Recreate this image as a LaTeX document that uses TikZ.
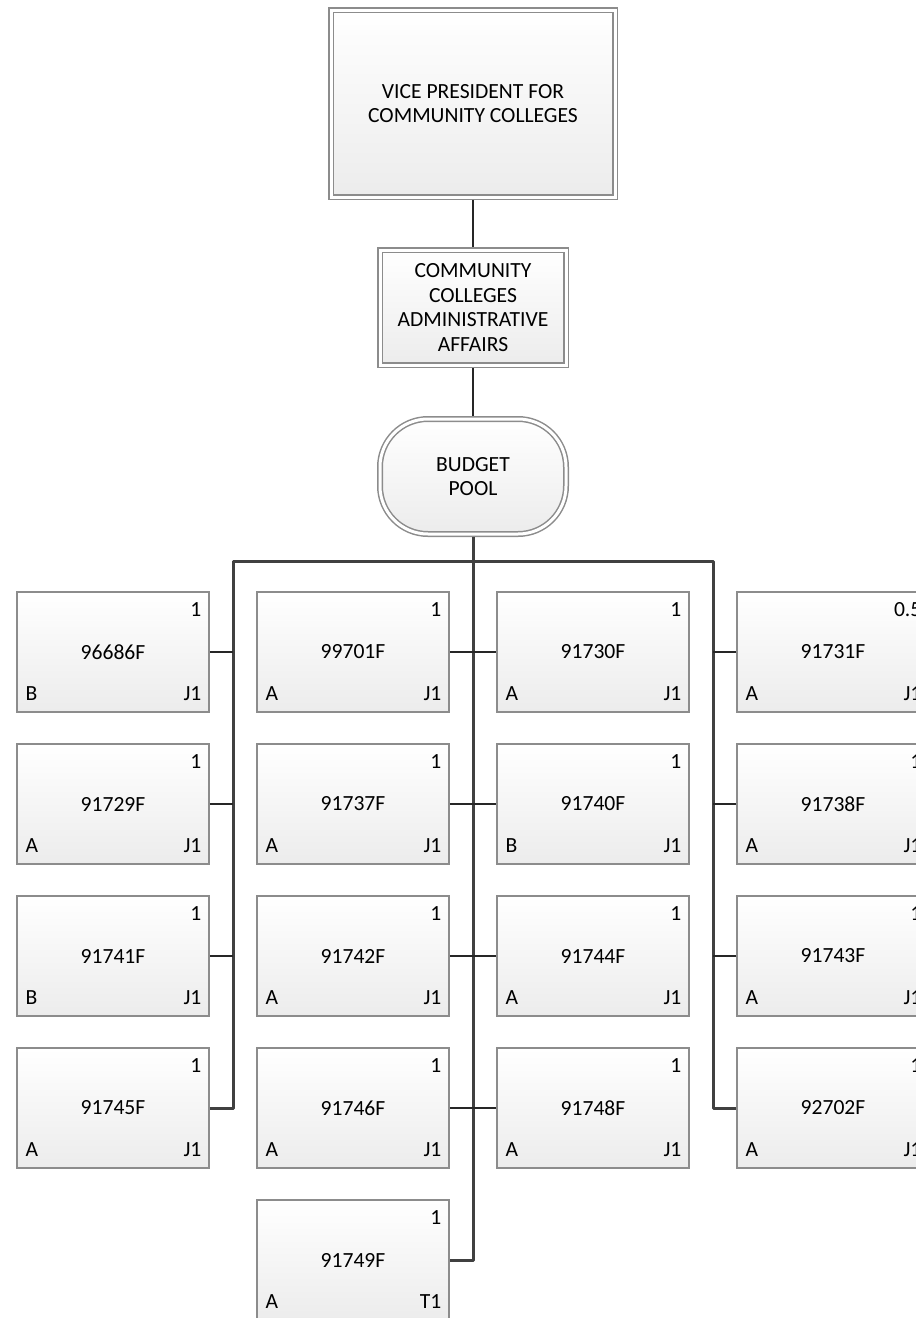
\documentclass[tikz,border=0pt]{standalone}
\usepackage{fontspec}
\setmainfont{Carlito}
\usetikzlibrary{positioning, calc}
\definecolor{boxgray}{RGB}{140,140,140}
\definecolor{busgray}{RGB}{64,64,64}
\definecolor{fillgray}{RGB}{236,236,236}

\tikzset{
    txt/.style={font=\fontsize{10.8}{12.2}\selectfont},
    posbox/.style={txt, draw=boxgray, line width=0.75pt, top color=white, bottom color=fillgray,
        minimum width=96pt, minimum height=60pt, inner sep=0pt},
    headbox/.style={posbox, align=center, double=white, double distance=1.5pt, outer sep=1.5pt},
    corner/.style={txt, inner sep=0pt},
    bus/.style={busgray, line width=1.5pt, line join=round},
    link/.style={black!85, line width=1.1pt},
    stem/.style={black!85, line width=0.8pt}
}

\begin{document}
\begin{tikzpicture}[x=0.5pt, y=-0.5pt]
    \useasboundingbox (0,0) rectangle (916,1318);

    % Head of the chart
    \node[headbox, minimum width=142pt, minimum height=93.5pt] (vp) at (473,103.5)
        {VICE PRESIDENT FOR\\COMMUNITY COLLEGES};
    \node[headbox, minimum width=93pt, minimum height=57.5pt] (admin) at (473,307.5)
        {COMMUNITY\\COLLEGES\\ADMINISTRATIVE\\AFFAIRS};
    \node[headbox, minimum width=93pt, minimum height=57.5pt, rounded corners=24pt] (pool) at (473,476.5)
        {BUDGET\\POOL};
    \draw[stem] (vp) -- (admin);
    \draw[stem] (admin) -- (pool);

    % Position boxes: column/row/number/fte/grade/class
    \foreach \c/\r/\num/\fte/\grade/\cls in {
        1/1/96686F/1/B/J1, 1/2/91729F/1/A/J1, 1/3/91741F/1/B/J1, 1/4/91745F/1/A/J1,
        2/1/99701F/1/A/J1, 2/2/91737F/1/A/J1, 2/3/91742F/1/A/J1, 2/4/91746F/1/A/J1, 2/5/91749F/1/A/T1,
        3/1/91730F/1/A/J1, 3/2/91740F/1/B/J1, 3/3/91744F/1/A/J1, 3/4/91748F/1/A/J1,
        4/1/91731F/0.5/A/J1, 4/2/91738F/1/A/J1, 4/3/91743F/1/A/J1, 4/4/92702F/1/A/J1} {
        \node[posbox] (p\c-\r) at ({113+240*(\c-1)},{652+152*(\r-1)}) {\num};
        \node[corner, anchor=base east] (p\c-\r-fte) at ($(p\c-\r.north east)+(-8,25)$) {\fte};
        \node[corner, anchor=base west] (p\c-\r-grade) at ($(p\c-\r.south west)+(9,-12)$) {\grade};
        \node[corner, anchor=base east] (p\c-\r-cls) at ($(p\c-\r.south east)+(-8,-12)$) {\cls};
    }

    % Buses
    \coordinate (busL) at (233,561);
    \coordinate (busR) at (713,561);
    \draw[bus] (p1-4.east) -- (busL |- p1-4.east) -- (busL) -- (busR) -- (busR |- p4-4.west) -- (p4-4.west);
    \draw[bus] (pool.south) -- (pool.south |- p2-5.east) -- (p2-5.east);

    % Links to the buses
    \foreach \r in {1,2,3} {
        \draw[link] (p1-\r.east) -- (busL |- p1-\r.east);
        \draw[link] (p4-\r.west) -- (busR |- p4-\r.west);
    }
    \foreach \r in {1,...,4}
        \draw[link] (p2-\r.east) -- (p3-\r.west);
\end{tikzpicture}
\end{document}
